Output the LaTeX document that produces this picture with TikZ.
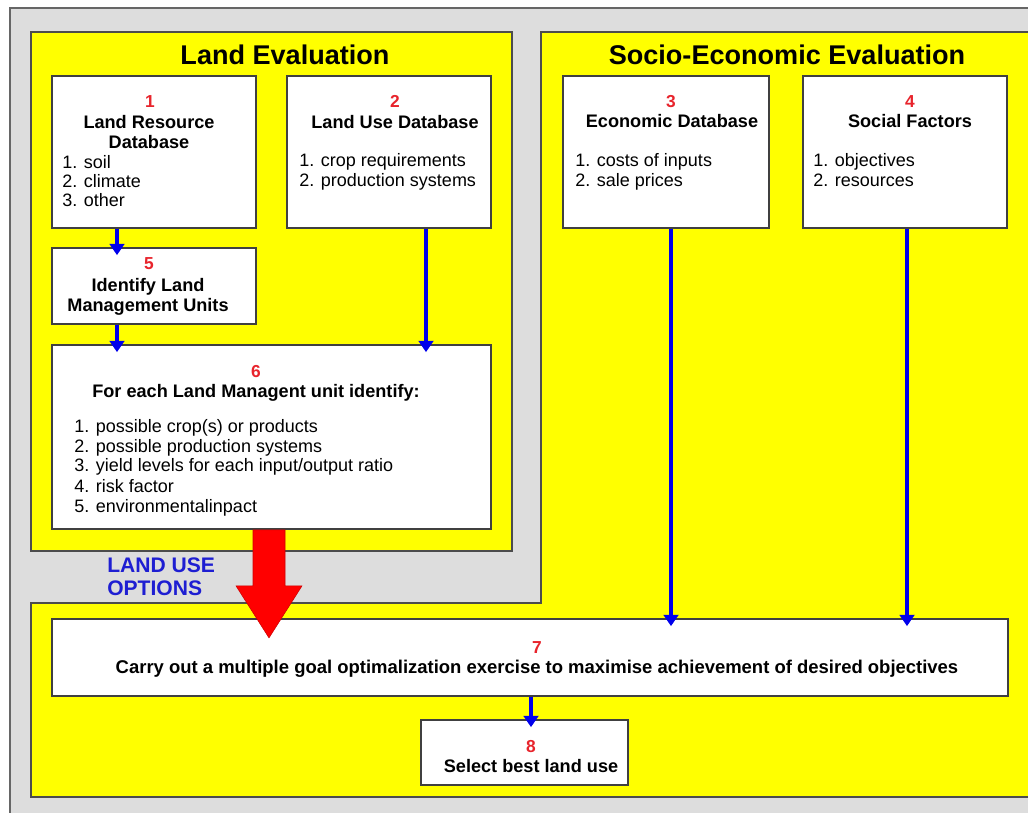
\documentclass[tikz,border=0pt]{standalone}
\usepackage{fontspec}
\setmainfont{Liberation Sans}
\usetikzlibrary{arrows.meta,fit,calc}
\definecolor{ylw}{RGB}{255,255,0}
\definecolor{framegray}{RGB}{221,221,221}
\definecolor{numred}{RGB}{232,36,44}
\definecolor{arrblue}{RGB}{0,0,235}
\definecolor{txtblue}{RGB}{30,30,210}
\begin{document}
\begin{tikzpicture}[x=0.75pt,y=-0.75pt,
  box/.style={draw=black!75, line width=1.3pt, fill=white, inner sep=0pt},
  num/.style={anchor=base, text=numred, font=\fontsize{13}{15}\selectfont\bfseries, inner sep=0pt},
  head/.style={anchor=base, font=\fontsize{13.6}{16}\selectfont\bfseries, inner sep=0pt},
  item/.style={anchor=base west, font=\fontsize{13.5}{16}\selectfont, inner sep=0pt},
  ttl/.style={anchor=base, font=\fontsize{20.3}{24}\selectfont\bfseries, inner sep=0pt},
  conn/.style={draw=arrblue, line width=3pt, -{Triangle[width=11pt,length=8.5pt]}, shorten >=-6pt},
  region/.style={fill=ylw, draw=black!70, line width=1.4pt},
]
\useasboundingbox (0,0) rectangle (1028,813);
\clip (0,0) rectangle (1028,813);
\fill[white] (0,0) rectangle (1028,813);
\draw[fill=framegray, draw=black!60, line width=1.4pt] (10,8) rectangle (1040,830);
% yellow regions
\draw[region] (31,32) rectangle (512,551);
\draw[region] (541,32) -- (1040,32) -- (1040,797) -- (31,797) -- (31,603) -- (541,603) -- cycle;
% titles
\node[ttl] (t1) at (285,65) {Land Evaluation};
\node[ttl] (t2) at (787,65) {Socio-Economic Evaluation};
% boxes
\node[box, fit={(52,76) (256,228)}] (b1) {};
\node[box, fit={(287,76) (491,228)}] (b2) {};
\node[box, fit={(563,76) (769,228)}] (b3) {};
\node[box, fit={(803,76) (1007,228)}] (b4) {};
\node[box, fit={(52,248) (256,324)}] (b5) {};
\node[box, fit={(52,345) (491,529)}] (b6) {};
\node[box, fit={(52,619) (1008,696)}] (b7) {};
\node[box, fit={(421,720) (628,785)}] (b8) {};
% box 1
\node[num] (n1) at (150,108) {1};
\node[head] (h1a) at (149,129) {Land Resource};
\node[head] (h1b) at (149,149) {Database};
\node[item] (i1a) at (62,169) {1. soil};
\node[item] (i1b) at (62,188) {2. climate};
\node[item] (i1c) at (62,207) {3. other};
% box 2
\node[num] (n2) at (395,108) {2};
\node[head] (h2) at (395,129) {Land Use Database};
\node[item] (i2a) at (299,167) {1. crop requirements};
\node[item] (i2b) at (299,187) {2. production systems};
% box 3
\node[num] (n3) at (671,108) {3};
\node[head] (h3) at (672,128) {Economic Database};
\node[item] (i3a) at (575,167) {1. costs of inputs};
\node[item] (i3b) at (575,187) {2. sale prices};
% box 4
\node[num] (n4) at (910,108) {4};
\node[head] (h4) at (910,128) {Social Factors};
\node[item] (i4a) at (813,167) {1. objectives};
\node[item] (i4b) at (813,187) {2. resources};
% box 5
\node[num] (n5) at (149,269) {5};
\node[head] (h5a) at (148,291) {Identify Land};
\node[head] (h5b) at (148,311) {Management Units};
% box 6
\node[num] (n6) at (256,377) {6};
\node[head] (h6) at (256,397) {For each Land Managent unit identify:};
\node[item] (i6a) at (74,432) {1. possible crop(s) or products};
\node[item] (i6b) at (74,452) {2. possible production systems};
\node[item] (i6c) at (74,471) {3. yield levels for each input/output ratio};
\node[item] (i6d) at (74,492) {4. risk factor};
\node[item] (i6e) at (74,512) {5. environmentalinpact};
% box 7
\node[num] (n7) at (537,653) {7};
\node[head, font=\fontsize{13.85}{16}\selectfont\bfseries] (h7) at (537,673) {Carry out a multiple goal optimalization exercise to maximise achievement of desired objectives};
% box 8
\node[num] (n8) at (531,752) {8};
\node[head] (h8) at (531,772) {Select best land use};
% land use options label
\node[anchor=base west, inner sep=0pt, text=txtblue, font=\fontsize{15.8}{18}\selectfont\bfseries] (luo1) at (107,572) {LAND USE};
\node[anchor=base west, inner sep=0pt, text=txtblue, font=\fontsize{15.8}{18}\selectfont\bfseries] (luo2) at (107,595) {OPTIONS};
% connectors
\coordinate (c1) at (117,0);
\coordinate (c2) at (426,0);
\coordinate (c3) at (671,0);
\coordinate (c4) at (907,0);
\coordinate (c7) at (531,0);
\coordinate (cr) at (269,0);
\draw[conn] (b1.south -| c1) -- (b5.north -| c1);
\draw[conn] (b5.south -| c1) -- (b6.north -| c1);
\draw[conn] (b2.south -| c2) -- (b6.north -| c2);
\draw[conn] (b3.south -| c3) -- (b7.north -| c3);
\draw[conn] (b4.south -| c4) -- (b7.north -| c4);
\draw[conn] (b7.south -| c7) -- (b8.north -| c7);
% big red arrow from box 6 to box 7
\coordinate (r0) at (b6.south -| cr);
\fill[red, draw=red!80!black, line width=0.4pt]
  ($(r0)+(-16,0)$) -- ($(r0)+(16,0)$) -- ($(r0)+(16,56)$) -- ($(r0)+(33,56)$)
  -- ($(r0)+(0,108)$) -- ($(r0)+(-33,56)$) -- ($(r0)+(-16,56)$) -- cycle;
\end{tikzpicture}
\end{document}
